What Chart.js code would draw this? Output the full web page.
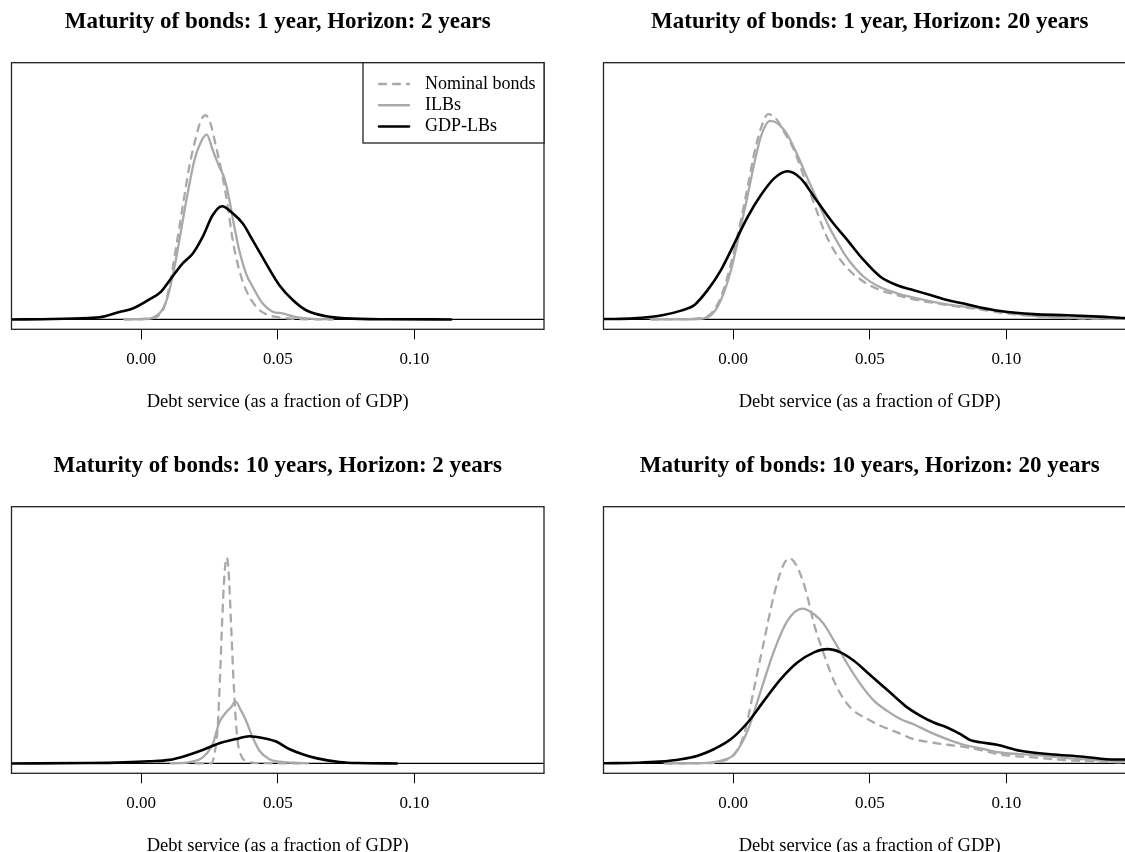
<!DOCTYPE html>
<html>
<head>
<meta charset="utf-8">
<title>Debt service densities</title>
<script src="https://cdn.jsdelivr.net/npm/chart.js@4.4.1/dist/chart.umd.min.js"></script>
<style>
    html, body { margin: 0; padding: 0; background: #ffffff; }
    #figure { position: relative; width: 1125px; height: 852px; overflow: hidden; }
    #figure canvas { position: absolute; }
    #p1 { left: 0; top: 0; }
    #p2 { left: 592px; top: 0; }
    #p3 { left: 0; top: 444px; }
    #p4 { left: 592px; top: 444px; }
</style>
</head>
<body>
<div id="figure">
    <canvas id="p1" width="592" height="420"></canvas>
    <canvas id="p2" width="592" height="420"></canvas>
    <canvas id="p3" width="592" height="420"></canvas>
    <canvas id="p4" width="592" height="420"></canvas>
</div>
<script>

// shared axes
const X_MIN = -0.0475;
const X_MAX = 0.1475;
const X_TICKS = [0.00, 0.05, 0.10];
const Y_LIM = 70;
const BASELINE = 0;

const SERIES = ["Nominal bonds", "ILBs", "GDP-LBs"];

const TITLES = [
    "Maturity of bonds: 1 year, Horizon: 2 years",
    "Maturity of bonds: 1 year, Horizon: 20 years",
    "Maturity of bonds: 10 years, Horizon: 2 years",
    "Maturity of bonds: 10 years, Horizon: 20 years"
];

const X_LABEL = "Debt service (as a fraction of GDP)";

// maturity 1 year, horizon 2 years
const m1h2NominalX = [-0.0061, 0.003, 0.0079, 0.0103, 0.0128, 0.0152, 0.0176, 0.0201, 0.0219, 0.0235, 0.0252, 0.0274, 0.0298, 0.0317, 0.0335, 0.0359, 0.0384, 0.0421, 0.0457, 0.0506, 0.0579, 0.07];
const m1h2NominalY = [0, 0.3, 2.6, 9.3, 20.6, 32.0, 43.3, 51.8, 56.5, 57.9, 56.0, 49.0, 40.5, 32.0, 22.5, 14.0, 8.3, 3.6, 1.5, 0.6, 0.1, 0];
const m1h2IlbX = [-0.006, 0.0006, 0.0067, 0.0097, 0.0122, 0.0146, 0.017, 0.0195, 0.0219, 0.024, 0.0262, 0.0286, 0.0305, 0.0323, 0.0341, 0.0359, 0.0384, 0.0408, 0.0445, 0.0481, 0.0518, 0.0555, 0.0604, 0.07];
const m1h2IlbY = [0, 0.1, 1.7, 6.4, 14.9, 25.3, 35.7, 45.2, 50.4, 52.4, 48.0, 43.3, 40.0, 33.8, 26.3, 19.6, 13.0, 9.3, 4.5, 2.2, 1.7, 0.9, 0.3, 0];
const m1h2GdpX = [-0.0476, -0.0323, -0.0192, -0.0153, -0.008, -0.0031, 0.003, 0.0073, 0.0109, 0.0152, 0.0189, 0.0225, 0.0262, 0.0296, 0.0335, 0.0372, 0.0408, 0.0457, 0.0506, 0.0555, 0.0604, 0.0677, 0.075, 0.09, 0.1135];
const m1h2GdpY = [0, 0.1, 0.4, 0.6, 2.1, 3.1, 5.7, 7.9, 11.6, 15.9, 18.7, 23.4, 29.6, 32.1, 30.1, 27.2, 22.5, 15.9, 9.7, 5.5, 2.6, 0.9, 0.3, 0.05, 0];

// maturity 1 year, horizon 20 years
const m1h20NominalX = [-0.03, -0.02, -0.013, -0.0081, -0.0045, -0.0008, 0.0028, 0.0053, 0.0077, 0.0101, 0.0128, 0.0156, 0.0186, 0.0223, 0.0259, 0.0296, 0.0332, 0.0369, 0.0418, 0.0478, 0.0539, 0.06, 0.0661, 0.0783, 0.0905, 0.10, 0.11, 0.122, 0.135, 0.16];
const m1h20NominalY = [0, 0.1, 0.3, 1.7, 6.4, 15.9, 28.2, 37.6, 47.1, 54.1, 58.2, 57.0, 53.2, 48.0, 40.5, 32.9, 25.3, 19.6, 14.5, 10.7, 8.3, 6.9, 5.7, 4.1, 2.8, 1.7, 1.0, 0.4, 0.2, 0.1];
const m1h20IlbX = [-0.03, -0.013, -0.0081, -0.0045, -0.0008, 0.0028, 0.0053, 0.0077, 0.0101, 0.0135, 0.0162, 0.0199, 0.0235, 0.0272, 0.0308, 0.0345, 0.0381, 0.0418, 0.0478, 0.0539, 0.06, 0.0661, 0.0783, 0.0905, 0.10, 0.11, 0.122, 0.135, 0.16];
const m1h20IlbY = [0, 0.1, 1.2, 5.5, 14.0, 26.3, 35.2, 44.2, 51.8, 56.3, 55.6, 52.3, 46.6, 40.0, 33.8, 27.2, 22.0, 17.3, 12.1, 9.1, 7.4, 6.2, 4.3, 3.1, 2.0, 1.0, 0.5, 0.25, 0.1];
const m1h20GdpX = [-0.0471, -0.0366, -0.026, -0.0191, -0.0142, -0.0094, -0.0045, 0.0004, 0.0053, 0.0101, 0.015, 0.0199, 0.0247, 0.0296, 0.0357, 0.0418, 0.0478, 0.0539, 0.06, 0.0661, 0.0722, 0.0783, 0.0844, 0.0905, 0.0978, 0.1099, 0.1221, 0.1343, 0.1434, 0.16];
const m1h20GdpY = [0.1, 0.3, 1.2, 2.5, 4.1, 8.3, 14.0, 21.5, 29.1, 35.2, 40.0, 42.0, 40.0, 34.8, 28.2, 22.5, 16.8, 12.1, 9.7, 8.3, 6.9, 5.5, 4.5, 3.4, 2.4, 1.5, 1.2, 0.8, 0.4, 0.1];

// maturity 10 years, horizon 2 years
const m10h2NominalX = [0.02, 0.0256, 0.0268, 0.028, 0.0289, 0.0296, 0.0305, 0.0313, 0.032, 0.0329, 0.0337, 0.0345, 0.0353, 0.0366, 0.039, 0.0433, 0.06];
const m10h2NominalY = [0, 0, 2.6, 10.2, 25.3, 39.5, 53.7, 58.4, 54.6, 39.5, 25.3, 14.0, 6.4, 2.2, 0.6, 0.1, 0];
const m10h2IlbX = [0.0109, 0.0176, 0.0225, 0.0262, 0.0286, 0.0311, 0.0329, 0.0345, 0.0366, 0.0384, 0.0408, 0.0433, 0.0469, 0.0506, 0.0591, 0.061];
const m10h2IlbY = [0, 0.4, 1.7, 5.5, 11.6, 14.5, 15.9, 17.6, 14.9, 12.1, 7.4, 3.6, 1.2, 0.5, 0.1, 0];
const m10h2GdpX = [-0.0476, -0.0193, -0.0062, 0.003, 0.0103, 0.0164, 0.0225, 0.0286, 0.0347, 0.0396, 0.0445, 0.0494, 0.0542, 0.0591, 0.064, 0.0726, 0.0791, 0.0936];
const m10h2GdpY = [0, 0.1, 0.3, 0.6, 1.0, 2.2, 3.8, 5.7, 6.9, 7.7, 7.2, 6.2, 4.1, 2.6, 1.5, 0.4, 0.1, 0];

// maturity 10 years, horizon 20 years
const m10h20NominalX = [-0.025, -0.0094, -0.0033, 0.0004, 0.004, 0.0077, 0.0113, 0.015, 0.018, 0.0205, 0.0235, 0.0266, 0.0296, 0.0332, 0.0369, 0.0405, 0.0442, 0.0491, 0.0539, 0.06, 0.0661, 0.0722, 0.0783, 0.0844, 0.0905, 0.0978, 0.1099, 0.1221, 0.1343, 0.1434, 0.16];
const m10h20NominalY = [0, 0.1, 0.8, 2.6, 8.3, 21.5, 34.8, 48.0, 55.6, 58.2, 55.6, 49.0, 39.5, 31.0, 23.4, 18.2, 14.9, 12.6, 10.7, 8.8, 6.9, 6.0, 5.3, 4.7, 3.8, 2.5, 1.7, 0.9, 0.5, 0.3, 0.1];
const m10h20IlbX = [-0.025, -0.0118, -0.0045, 0.0004, 0.0053, 0.0101, 0.015, 0.0199, 0.0253, 0.0296, 0.0332, 0.0369, 0.0418, 0.0466, 0.0515, 0.0564, 0.0612, 0.0661, 0.0722, 0.0783, 0.0844, 0.0905, 0.0978, 0.1099, 0.1221, 0.1343, 0.1434, 0.16];
const m10h20IlbY = [0, 0.1, 0.8, 2.6, 9.3, 20.6, 32.0, 40.5, 43.9, 42.3, 39.5, 34.8, 28.2, 22.5, 17.8, 14.9, 12.6, 11.1, 8.8, 6.9, 5.3, 4.3, 3.1, 2.4, 1.5, 0.9, 0.7, 0.3];
const m10h20GdpX = [-0.0471, -0.035, -0.027, -0.0191, -0.013, -0.0069, -0.0008, 0.0053, 0.0113, 0.0174, 0.0235, 0.0296, 0.0345, 0.0393, 0.0442, 0.0491, 0.0539, 0.0588, 0.0637, 0.0686, 0.0734, 0.0783, 0.0832, 0.0868, 0.0905, 0.0966, 0.1051, 0.116, 0.1282, 0.1367, 0.1434, 0.16];
const m10h20GdpY = [0.05, 0.2, 0.5, 1.2, 2.2, 4.1, 6.9, 11.6, 17.8, 23.9, 28.6, 31.5, 32.4, 31.5, 29.1, 25.8, 22.5, 19.2, 15.9, 13.5, 11.6, 10.2, 8.3, 6.6, 6.0, 5.3, 3.6, 2.6, 1.9, 1.2, 1.1, 0.6];

const FONT = "'Liberation Serif', 'Times New Roman', serif";

// line looks for nominal / ILB / GDP-linked, black drawn on top
const STYLES = [
    { color: "#a9a9a9", width: 2.3, dash: [7, 7], order: 2 },
    { color: "#a9a9a9", width: 2.3, dash: [], order: 1 },
    { color: "#000000", width: 2.6, dash: [], order: 0 }
];

Chart.defaults.font.family = FONT;
Chart.defaults.color = "#000000";

function zip(xs, ys) {
    return xs.map((x, i) => ({ x: x, y: ys[i] }));
}

// zero line, box round the plot region and the optional legend
const framePlugin = {

    id: "frame",

    beforeDatasetsDraw(chart) {

        const { ctx, chartArea: a, scales } = chart;
        const y0 = scales.y.getPixelForValue(BASELINE);

        ctx.save();
        ctx.strokeStyle = "#000000";
        ctx.lineWidth = 1.3;
        ctx.beginPath();
        ctx.moveTo(a.left, y0);
        ctx.lineTo(a.right, y0);
        ctx.stroke();
        ctx.restore();

    },

    afterDraw(chart, args, opts) {

        const { ctx, chartArea: a } = chart;

        ctx.save();
        ctx.strokeStyle = "#222222";
        ctx.lineWidth = 1.3;
        ctx.strokeRect(a.left, a.top, a.right - a.left, a.bottom - a.top);

        if (opts.legend) {

            const w = 181;
            const h = 80.3;
            const left = a.right - w;
            const top = a.top;

            ctx.fillStyle = "#ffffff";
            ctx.fillRect(left, top, w, h);
            ctx.strokeRect(left, top, w, h);

            ctx.font = "18px " + FONT;
            ctx.textBaseline = "middle";
            ctx.textAlign = "left";

            chart.data.datasets.forEach((ds, i) => {

                const y = top + 21.3 + i * 21.25;

                ctx.strokeStyle = ds.borderColor;
                ctx.lineWidth = ds.borderWidth;
                ctx.lineCap = "round";
                ctx.setLineDash(ds.borderDash);
                ctx.beginPath();
                ctx.moveTo(left + 16, y);
                ctx.lineTo(left + 46, y);
                ctx.stroke();
                ctx.setLineDash([]);

                ctx.fillStyle = "#000000";
                ctx.fillText(ds.label, left + 62, y);

            });

        }

        ctx.restore();

    }

};

function drawPanel(id, title, series, showLegend) {

    const datasets = series.map((pts, i) => ({
        label: SERIES[i],
        data: pts,
        borderColor: STYLES[i].color,
        borderWidth: STYLES[i].width,
        borderDash: STYLES[i].dash,
        borderCapStyle: "round",
        order: STYLES[i].order,
        pointRadius: 0,
        fill: false,
        cubicInterpolationMode: "monotone"
    }));

    new Chart(document.getElementById(id), {

        type: "line",

        data: { datasets: datasets },

        plugins: [framePlugin],

        options: {

            responsive: false,
            animation: false,
            devicePixelRatio: 1,
            events: [],

            layout: {
                padding: { left: 11.5, right: 48, top: 0, bottom: 0 }
            },

            scales: {

                x: {
                    type: "linear",
                    min: X_MIN,
                    max: X_MAX,
                    afterBuildTicks: (axis) => {
                        axis.ticks = X_TICKS.map(v => ({ value: v }));
                    },
                    afterFit: (axis) => {
                        axis.height = 90.7;
                    },
                    grid: {
                        display: true,
                        drawOnChartArea: false,
                        drawTicks: true,
                        tickLength: 10,
                        color: "#000000",
                        lineWidth: 1
                    },
                    border: { display: false },
                    ticks: {
                        padding: 10.5,
                        maxRotation: 0,
                        autoSkip: false,
                        color: "#000000",
                        font: { size: 17 },
                        callback: (v) => Number(v).toFixed(2)
                    },
                    title: {
                        display: true,
                        text: X_LABEL,
                        color: "#000000",
                        font: { size: 18.5 },
                        padding: { top: 0, bottom: 6.9 }
                    }
                },

                y: {
                    display: false,
                    min: -0.04 * Y_LIM,
                    max: 1.04 * Y_LIM
                }

            },

            plugins: {

                legend: { display: false },

                tooltip: { enabled: false },

                title: {
                    display: true,
                    text: title,
                    color: "#000000",
                    font: { size: 23, weight: "bold", lineHeight: 1.2 },
                    padding: { top: 8.2, bottom: 26.9 }
                },

                frame: { legend: showLegend }

            }

        }

    });

}

window.addEventListener("DOMContentLoaded", () => {

    drawPanel("p1", TITLES[0], [
        zip(m1h2NominalX, m1h2NominalY),
        zip(m1h2IlbX, m1h2IlbY),
        zip(m1h2GdpX, m1h2GdpY)
    ], true);

    drawPanel("p2", TITLES[1], [
        zip(m1h20NominalX, m1h20NominalY),
        zip(m1h20IlbX, m1h20IlbY),
        zip(m1h20GdpX, m1h20GdpY)
    ], false);

    drawPanel("p3", TITLES[2], [
        zip(m10h2NominalX, m10h2NominalY),
        zip(m10h2IlbX, m10h2IlbY),
        zip(m10h2GdpX, m10h2GdpY)
    ], false);

    drawPanel("p4", TITLES[3], [
        zip(m10h20NominalX, m10h20NominalY),
        zip(m10h20IlbX, m10h20IlbY),
        zip(m10h20GdpX, m10h20GdpY)
    ], false);

});

</script>
</body>
</html>
